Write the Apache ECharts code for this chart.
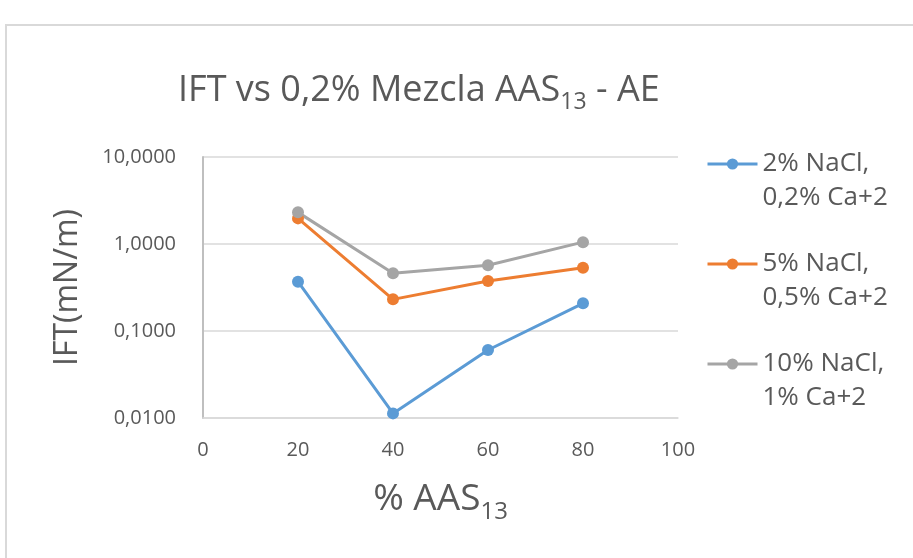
<!DOCTYPE html>
<html><head><meta charset="utf-8">
<script src="https://cdn.jsdelivr.net/npm/echarts@6/dist/echarts.min.js"></script>
<style>html,body{margin:0;padding:0;background:#fff}#c{width:913px;height:558px}</style>
</head><body><div id="c"></div>
<script>
const xValues = [20, 40, 60, 80];
const seriesNames = ['2% NaCl,\n0,2% Ca+2', '5% NaCl,\n0,5% Ca+2', '10% NaCl,\n1% Ca+2'];
const nacl2 = [0.369, 0.0113, 0.0605, 0.208];
const nacl5 = [1.97, 0.231, 0.376, 0.534];
const nacl10 = [2.31, 0.46, 0.569, 1.05];
const yTickLabels = ['0,0100', '0,1000', '1,0000', '10,0000'];
const xTickLabels = ['0', '20', '40', '60', '80', '100'];
const colors = ['#5B9BD5', '#ED7D31', '#A5A5A5'];
const FONT = '"Open Sans", sans-serif';
const TXT = '#595959';

const allData = [nacl2, nacl5, nacl10];
const chart = echarts.init(document.getElementById('c'), null, {renderer: 'canvas'});
const legendTops = [108, 208, 308];

const option = {
  animation: false,
  backgroundColor: '#fff',
  color: colors,
  title: {
    text: '{a|IFT vs 0,2% Mezcla AAS}{s|13}{a| - AE}',
    left: 173,
    top: 62,
    textStyle: {
      fontWeight: 'normal',
      rich: {
        a: {fontSize: 36, fontFamily: FONT, color: TXT, fontWeight: 'normal'},
        s: {fontSize: 23, fontFamily: FONT, color: TXT, fontWeight: 'normal', padding: [24, 0, 0, 0]}
      }
    }
  },
  graphic: [{
    type: 'rect', z: -10, silent: true,
    shape: {x: 6, y: 25, width: 1000, height: 1000},
    style: {fill: 'none', stroke: '#d9d9d9', lineWidth: 2}
  }],
  grid: {left: 203, right: 235, top: 157, bottom: 140},
  legend: seriesNames.map((n, i) => ({
    data: [n],
    orient: 'vertical',
    left: 701,
    top: legendTops[i],
    itemWidth: 50,
    itemHeight: 14,
    itemGap: 0,
    formatter: name => ' \n' + name,
    lineStyle: {width: 3},
    textStyle: {fontSize: 26, fontFamily: FONT, color: TXT, lineHeight: 34}
  })),
  xAxis: {
    type: 'value', min: 0, max: 100, interval: 20,
    axisLine: {show: true, lineStyle: {color: '#d9d9d9', width: 1.5}},
    axisTick: {show: false},
    splitLine: {show: false},
    axisLabel: {
      fontSize: 20, fontFamily: FONT, color: TXT, margin: 22,
      formatter: v => xTickLabels[Math.round(v / 20)]
    },
    name: '{a|% AAS}{s|13}',
    nameLocation: 'middle',
    nameGap: 56,
    nameTextStyle: {
      rich: {
        a: {fontSize: 37, fontFamily: FONT, color: TXT},
        s: {fontSize: 24, fontFamily: FONT, color: TXT, padding: [26, 0, 0, 0]}
      }
    }
  },
  yAxis: {
    type: 'log', logBase: 10, min: 0.01, max: 10,
    axisLine: {show: true, lineStyle: {color: '#bfbfbf', width: 2}},
    axisTick: {show: false},
    splitLine: {show: true, lineStyle: {color: '#d9d9d9', width: 1.5}},
    axisLabel: {
      fontSize: 20, fontFamily: FONT, color: TXT, margin: 27,
      formatter: v => yTickLabels[Math.round(Math.log10(v)) + 2]
    },
    name: 'IFT(mN/m)',
    nameLocation: 'middle',
    nameRotate: 90,
    nameGap: 119,
    nameTextStyle: {fontSize: 32, fontFamily: FONT, color: TXT}
  },
  series: allData.map((d, i) => ({
    name: seriesNames[i],
    type: 'line',
    data: xValues.map((x, j) => [x, d[j]]),
    symbol: 'circle',
    symbolSize: 12,
    lineStyle: {width: 3, color: colors[i]},
    itemStyle: {color: colors[i]}
  }))
};
chart.setOption(option);
</script></body></html>
